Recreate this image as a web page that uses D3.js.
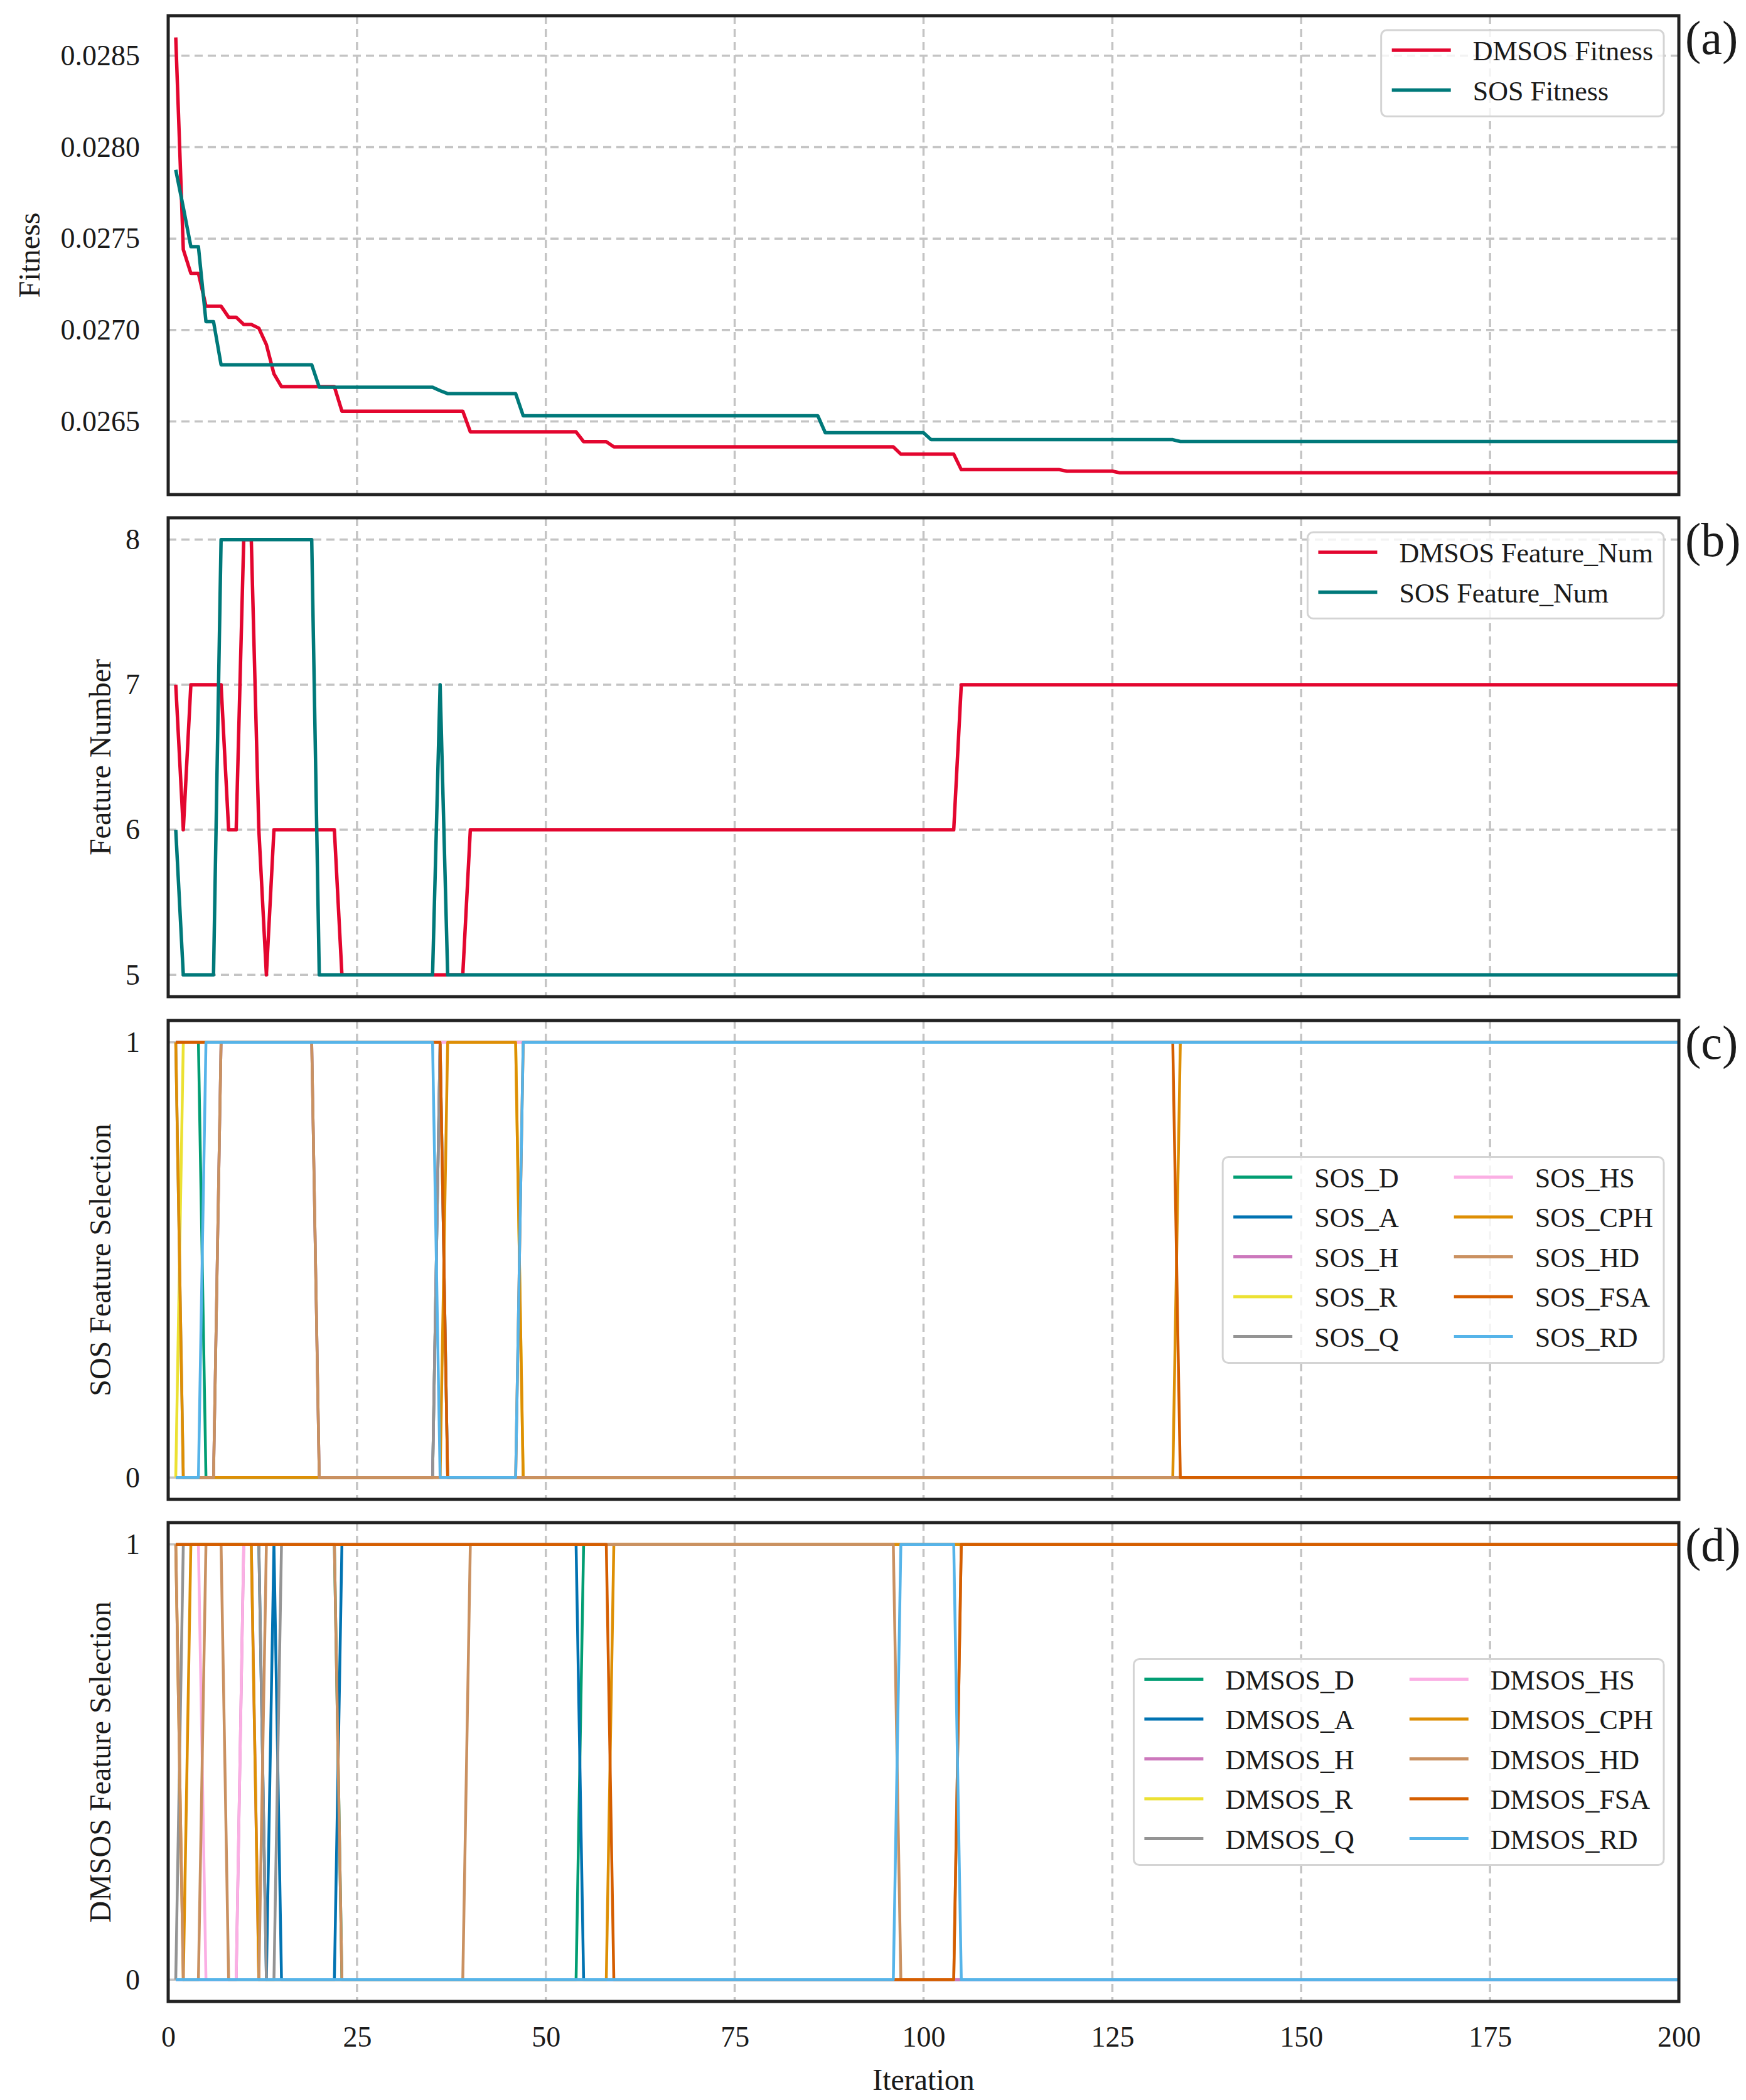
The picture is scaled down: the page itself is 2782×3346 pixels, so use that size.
<!DOCTYPE html>
<html>
<head>
<meta charset="utf-8">
<script src="https://cdn.jsdelivr.net/npm/d3@7"></script>
<style>
  body { margin: 0; background: #fff; }
  svg text { font-family: "Liberation Serif", "Times New Roman", serif; fill: #1a1a1a; }
</style>
</head>
<body>
<div id="chart"></div>
<script>
// iterations run from 1 to 200
var n_iter = 200;
var x_ticks = [0, 25, 50, 75, 100, 125, 150, 175, 200];

// step runs: [first iteration, value] - the value holds until the next run starts
// (a) fitness
var dmsos_fitness = [[1, 0.02860], [2, 0.02744], [3, 0.02731], [5, 0.02713], [8, 0.02707], [10, 0.02703],
  [12, 0.02701], [13, 0.02692], [14, 0.02676], [15, 0.02669], [23, 0.026556], [40, 0.026443],
  [55, 0.026389], [59, 0.026361], [97, 0.026321], [105, 0.026236], [119, 0.026228], [126, 0.026219]];
var sos_fitness = [[1, 0.027876], [2, 0.02767], [3, 0.027456], [5, 0.027046], [7, 0.026810], [20, 0.026687],
  [36, 0.026668], [37, 0.026652], [47, 0.026531], [87, 0.026438], [101, 0.026400], [134, 0.026390]];
var fitness_ticks = [0.0265, 0.0270, 0.0275, 0.0280, 0.0285];

// (b) number of selected features
var dmsos_feature_num = [[1, 7], [2, 6], [3, 7], [8, 6], [10, 8], [12, 6], [13, 5], [14, 6], [23, 5], [40, 6], [105, 7]];
var sos_feature_num = [[1, 6], [2, 5], [7, 8], [20, 5], [36, 7], [37, 5]];
var feature_num_ticks = [5, 6, 7, 8];

// (c) SOS feature selection (0/1)
var feature_names = ['D', 'A', 'H', 'R', 'Q', 'HS', 'CPH', 'HD', 'FSA', 'RD'];
var feature_colors = ['#029e73', '#0173b2', '#cc78bc', '#ece133', '#949494', '#fbafe4', '#de8f05', '#ca9161', '#d55e00', '#56b4e9'];
var sos_D = [[1, 1], [5, 0], [36, 1], [37, 0]];
var sos_A = [[1, 1]];
var sos_H = [[1, 0], [7, 1], [20, 0], [36, 1], [37, 0]];
var sos_R = [[1, 0], [2, 1], [47, 0]];
var sos_Q = [[1, 1], [2, 0], [7, 1], [20, 0], [36, 1]];
var sos_HS = [[1, 1]];
var sos_CPH = [[1, 1], [2, 0], [37, 1], [47, 0], [134, 1]];
var sos_HD = [[1, 0], [7, 1], [20, 0]];
var sos_FSA = [[1, 1], [37, 0], [47, 1], [134, 0]];
var sos_RD = [[1, 0], [5, 1], [36, 0], [47, 1]];

// (d) DMSOS feature selection (0/1)
var dm_D = [[1, 1], [23, 0], [55, 1]];
var dm_A = [[1, 1], [13, 0], [14, 1], [15, 0], [23, 1], [55, 0]];
var dm_H = [[1, 0], [10, 1], [12, 0]];
var dm_R = [[1, 1]];
var dm_Q = [[1, 0], [2, 1], [13, 0], [15, 1]];
var dm_HS = [[1, 1], [5, 0], [10, 1]];
var dm_CPH = [[1, 1], [2, 0], [3, 1], [12, 0], [59, 1]];
var dm_HD = [[1, 1], [2, 0], [5, 1], [8, 0], [13, 1], [23, 0], [40, 1], [97, 0], [105, 1]];
var dm_FSA = [[1, 1], [59, 0], [105, 1]];
var dm_RD = [[1, 0], [97, 1], [105, 0]];
var selection_ticks = [0, 1];

var sos_selection = [sos_D, sos_A, sos_H, sos_R, sos_Q, sos_HS, sos_CPH, sos_HD, sos_FSA, sos_RD];
var dm_selection = [dm_D, dm_A, dm_H, dm_R, dm_Q, dm_HS, dm_CPH, dm_HD, dm_FSA, dm_RD];

// turn step runs into one point per iteration
function expand(steps) {
  var out = [];
  var k = 0;
  for (var i = 1; i <= n_iter; i++) {
    while (k + 1 < steps.length && steps[k + 1][0] <= i) k++;
    out.push({it: i, v: steps[k][1]});
  }
  return out;
}

// layout
var chart_width = 2782, chart_height = 3346;
var left = 268, right = 2675;
var panel_top = [25, 825, 1626, 2426];
var panel_h = 763;
var dmsos_color = '#e3062f', sos_color = '#00797a';

var svg = d3.select('#chart')
  .append('svg')
  .attr('width', chart_width)
  .attr('height', chart_height);

var x_scale = d3.scaleLinear().domain([0, n_iter]).range([left, right]);

// matplotlib style 5% padding around the data
function padded(values) {
  var e = d3.extent(values);
  var r = e[1] - e[0];
  return [e[0] - 0.05 * r, e[1] + 0.05 * r];
}

function draw_panel(i, series, y_domain, y_ticks, fmt, y_label, label_x, letter, lw) {
  var top = panel_top[i], bottom = top + panel_h;
  var y_scale = d3.scaleLinear().domain(y_domain).range([bottom, top]);
  var g = svg.append('g');

  // grid
  g.selectAll('line.vgrid').data(x_ticks.slice(1, -1)).enter().append('line')
    .attr('x1', d => x_scale(d)).attr('x2', d => x_scale(d))
    .attr('y1', top).attr('y2', bottom)
    .attr('stroke', '#c4c4c4').attr('stroke-width', 3.5).attr('stroke-dasharray', '13,8');
  g.selectAll('line.hgrid').data(y_ticks).enter().append('line')
    .attr('x1', left).attr('x2', right)
    .attr('y1', d => y_scale(d)).attr('y2', d => y_scale(d))
    .attr('stroke', '#c4c4c4').attr('stroke-width', 3.5).attr('stroke-dasharray', '13,8');

  // lines
  var line = d3.line().x(d => x_scale(d.it)).y(d => y_scale(d.v));
  series.forEach(function(s) {
    g.append('path')
      .datum(expand(s.steps))
      .attr('d', line)
      .attr('fill', 'none')
      .attr('stroke', s.color)
      .attr('stroke-width', lw)
      .attr('stroke-linejoin', 'round');
  });

  // y axis labels
  var ax = g.append('g')
    .attr('transform', 'translate(' + left + ',0)')
    .call(d3.axisLeft(y_scale).tickValues(y_ticks).tickSize(0).tickPadding(45).tickFormat(fmt));
  ax.select('.domain').remove();
  ax.selectAll('text').style('font-size', '46px').style('font-family', '"Liberation Serif", serif').attr('fill', '#1a1a1a');

  g.append('text')
    .attr('transform', 'translate(' + label_x + ',' + (top + panel_h / 2) + ') rotate(-90)')
    .attr('text-anchor', 'middle')
    .style('font-size', '48px')
    .text(y_label);

  // frame
  g.append('rect')
    .attr('x', left).attr('y', top)
    .attr('width', right - left).attr('height', panel_h)
    .attr('fill', 'none').attr('stroke', '#222').attr('stroke-width', 5);

  g.append('text')
    .attr('x', right + 10).attr('y', top + 61)
    .style('font-size', '76px')
    .text('(' + letter + ')');

  return {g: g, top: top, bottom: bottom};
}

function draw_legend(p, entries, ncol, loc) {
  var fs = 44, handle_len = 94, handle_pad = 35, col_space = 88, row_step = 63.5, pad_x = 17;
  var nrow = Math.ceil(entries.length / ncol);
  var g = p.g.append('g');
  var box = g.append('rect');
  var texts = g.selectAll('text.lg').data(entries).enter().append('text')
    .attr('class', 'lg')
    .style('font-size', fs + 'px')
    .text(d => d.label);
  var widths = [];
  texts.each(function() { widths.push(this.getComputedTextLength()); });
  var col_w = [];
  for (var c = 0; c < ncol; c++) {
    col_w.push(d3.max(widths.slice(c * nrow, (c + 1) * nrow)));
  }
  var total = 2 * pad_x + d3.sum(col_w) + ncol * (handle_len + handle_pad) + (ncol - 1) * col_space;
  var box_h = 32 + (nrow - 1) * row_step + 42;
  var box_right = right - 24, box_left = box_right - total;
  var box_top = loc == 'upper' ? p.top + 23 : (p.top + p.bottom) / 2 - box_h / 2;

  box.attr('x', box_left).attr('y', box_top)
    .attr('width', total).attr('height', box_h)
    .attr('rx', 9).attr('ry', 9)
    .attr('fill', 'white').attr('fill-opacity', 0.8)
    .attr('stroke', '#d4d4d4').attr('stroke-width', 3);

  var col_x = [];
  var cx = box_left + pad_x;
  for (var c = 0; c < ncol; c++) {
    col_x.push(cx);
    cx += handle_len + handle_pad + col_w[c] + col_space;
  }
  entries.forEach(function(e, k) {
    var c = Math.floor(k / nrow), r = k % nrow;
    var yy = box_top + 32 + r * row_step;
    g.append('line')
      .attr('x1', col_x[c]).attr('x2', col_x[c] + handle_len)
      .attr('y1', yy).attr('y2', yy)
      .attr('stroke', e.color).attr('stroke-width', e.lw);
  });
  texts.attr('x', (d, k) => col_x[Math.floor(k / nrow)] + handle_len + handle_pad)
    .attr('y', (d, k) => box_top + 32 + (k % nrow) * row_step + 16);
}

// (a)
var fit_series = [
  {label: 'DMSOS Fitness', steps: dmsos_fitness, color: dmsos_color, lw: 5.5},
  {label: 'SOS Fitness', steps: sos_fitness, color: sos_color, lw: 5.5}
];
var fit_domain = padded(dmsos_fitness.concat(sos_fitness).map(d => d[1]));
var pa = draw_panel(0, fit_series, fit_domain, fitness_ticks, d3.format('.4f'), 'Fitness', 63, 'a', 5.5);
draw_legend(pa, fit_series, 1, 'upper');

// (b)
var num_series = [
  {label: 'DMSOS Feature_Num', steps: dmsos_feature_num, color: dmsos_color, lw: 5.5},
  {label: 'SOS Feature_Num', steps: sos_feature_num, color: sos_color, lw: 5.5}
];
var num_domain = padded(dmsos_feature_num.concat(sos_feature_num).map(d => d[1]));
var pb = draw_panel(1, num_series, num_domain, feature_num_ticks, d3.format('d'), 'Feature Number', 176, 'b', 5.5);
draw_legend(pb, num_series, 1, 'upper');

// (c)
var sos_series = sos_selection.map((s, k) => ({label: 'SOS_' + feature_names[k], steps: s, color: feature_colors[k], lw: 5}));
var pc = draw_panel(2, sos_series, padded(selection_ticks), selection_ticks, d3.format('d'), 'SOS Feature Selection', 176, 'c', 4.5);
draw_legend(pc, sos_series, 2, 'center');

// (d)
var dm_series = dm_selection.map((s, k) => ({label: 'DMSOS_' + feature_names[k], steps: s, color: feature_colors[k], lw: 5}));
var pd = draw_panel(3, dm_series, padded(selection_ticks), selection_ticks, d3.format('d'), 'DMSOS Feature Selection', 176, 'd', 4.5);
draw_legend(pd, dm_series, 2, 'center');

// x axis on the bottom panel only
var xa = svg.append('g')
  .attr('transform', 'translate(0,' + pd.bottom + ')')
  .call(d3.axisBottom(x_scale).tickValues(x_ticks).tickSize(0).tickPadding(39));
xa.select('.domain').remove();
xa.selectAll('text').style('font-size', '46px').style('font-family', '"Liberation Serif", serif').attr('fill', '#1a1a1a');

svg.append('text')
  .attr('x', (left + right) / 2).attr('y', 3330)
  .attr('text-anchor', 'middle')
  .style('font-size', '48px')
  .text('Iteration');
</script>
</body>
</html>
